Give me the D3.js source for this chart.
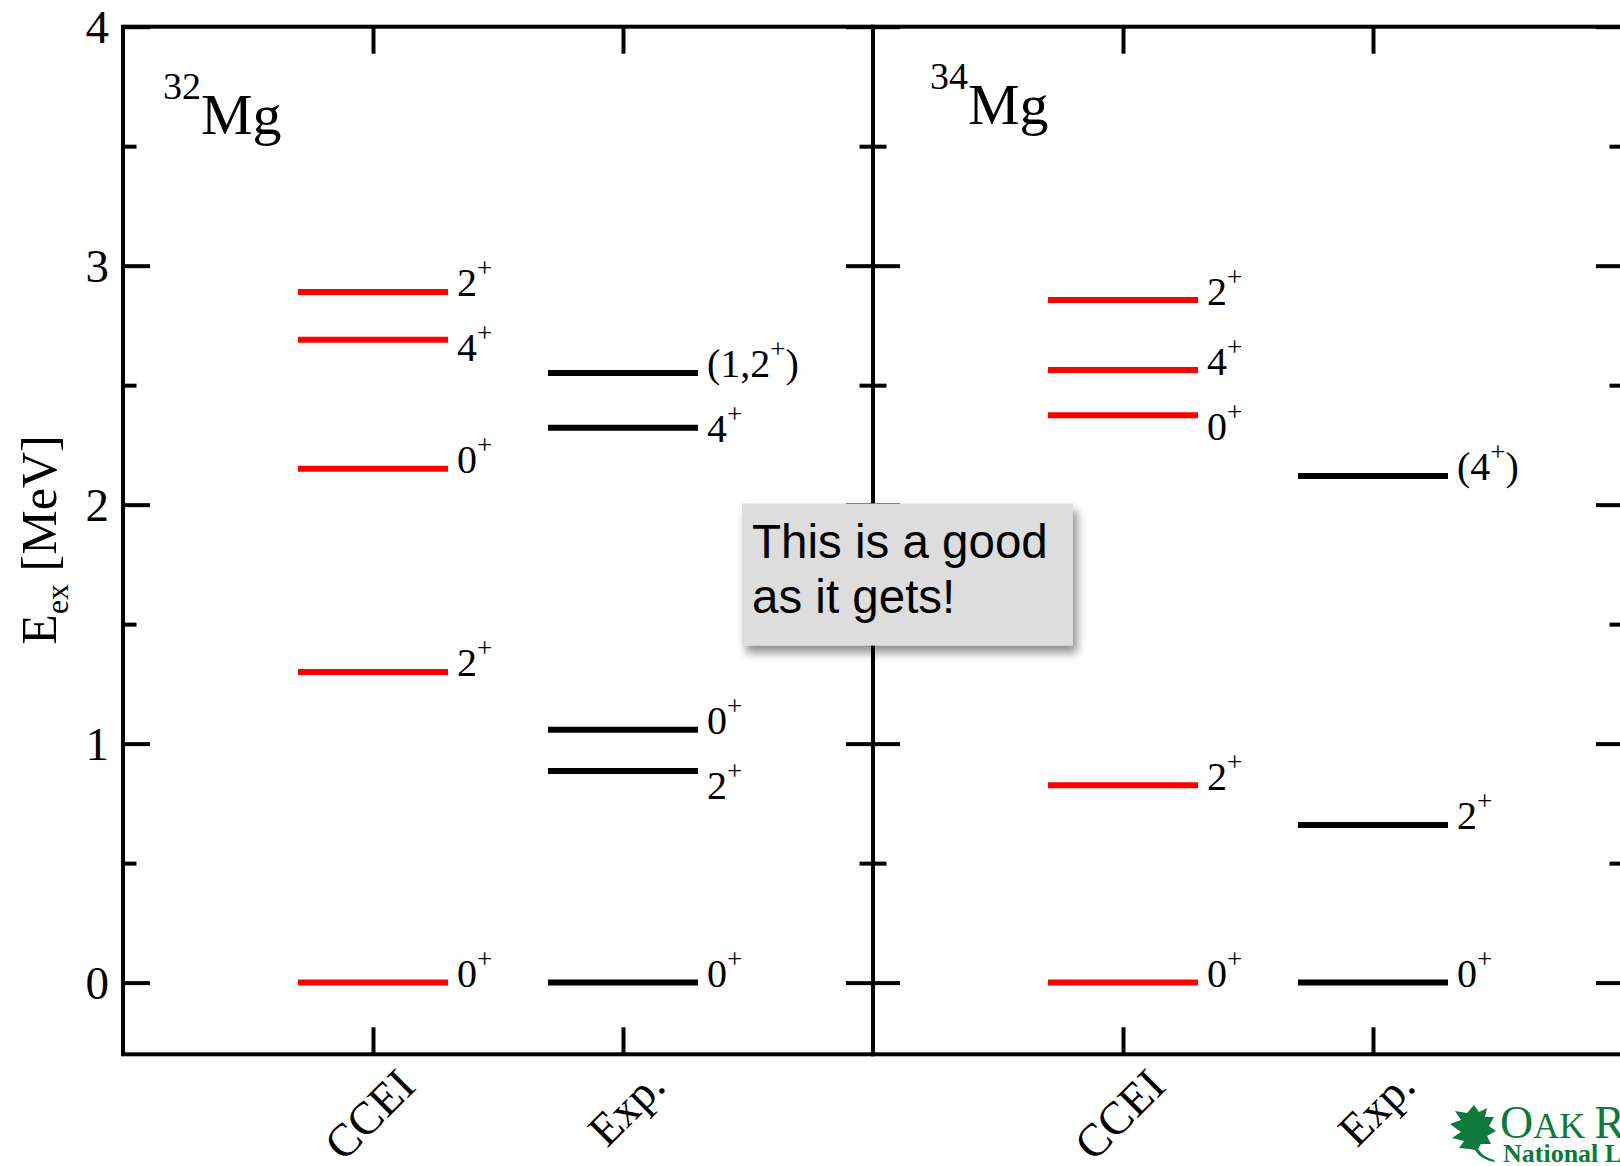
<!DOCTYPE html>
<html>
<head>
<meta charset="utf-8">
<script src="https://cdn.jsdelivr.net/npm/d3@7"></script>
<style>
  body { margin: 0; background: #fff; }
  svg { display: block; }
</style>
</head>
<body>
<div id="chart"></div>
<script>
// Data (MeV)
const categories = ["CCEI", "Exp."];
const nuclei = ["32", "34"];

const mg32CceiEnergy = [0, 1.30, 2.15, 2.69, 2.89];
const mg32CceiSpin = ["0+", "2+", "0+", "4+", "2+"];
const mg32ExpEnergy = [0, 0.885, 1.058, 2.322, 2.551];
const mg32ExpSpin = ["0+", "2+", "0+", "4+", "(1,2+)"];

const mg34CceiEnergy = [0, 0.826, 2.374, 2.563, 2.856];
const mg34CceiSpin = ["0+", "2+", "0+", "4+", "2+"];
const mg34ExpEnergy = [0, 0.660, 2.120];
const mg34ExpSpin = ["0+", "2+", "(4+)"];

const yMajorTicks = [0, 1, 2, 3, 4];
const yMinorTicks = [0.5, 1.5, 2.5, 3.5];

const width = 1620;
const height = 1166;
const plotTop = 26.7;
const plotBottom = 1054.3;
const plotLeft = 123;
const panelW = 750;
const serif = "'Liberation Serif', 'Times New Roman', serif";

const svg = d3.select("#chart")
    .append("svg")
    .attr("width", width)
    .attr("height", height)
    .style("background-color", "#fff");

const defs = svg.append("defs");
const shadow = defs.append("filter").attr("id", "shadow")
    .attr("x", "-20%").attr("y", "-20%").attr("width", "150%").attr("height", "160%");
shadow.append("feDropShadow")
    .attr("dx", 4).attr("dy", 7).attr("stdDeviation", 5)
    .attr("flood-color", "#000").attr("flood-opacity", 0.45);

const y = d3.scaleLinear().domain([-0.3, 4]).range([plotBottom, plotTop]);

// one column of levels per category per panel
const panels = [
  { mass: nuclei[0], cols: [
      { energy: mg32CceiEnergy, spin: mg32CceiSpin, color: "#ff0000" },
      { energy: mg32ExpEnergy, spin: mg32ExpSpin, color: "#000000" }
    ], titleX: 163, titleY: 134 },
  { mass: nuclei[1], cols: [
      { energy: mg34CceiEnergy, spin: mg34CceiSpin, color: "#ff0000" },
      { energy: mg34ExpEnergy, spin: mg34ExpSpin, color: "#000000" }
    ], titleX: 930, titleY: 124 }
];

function styleAxis(g) {
  g.select(".domain").remove();
  g.selectAll(".tick line").attr("stroke", "#000").attr("stroke-width", 4);
}

// label "0+" -> 0 with superscript +
function spinText(sel, spin) {
  const parts = spin.split("+");
  let raised = false;
  parts.forEach((p, i) => {
    if (p) {
      sel.append("tspan").attr("dy", raised ? 19 : 0).text(p);
      raised = false;
    }
    if (i < parts.length - 1) {
      sel.append("tspan").attr("font-size", 27).attr("dy", raised ? 0 : -19).text("+");
      raised = true;
    }
  });
}

panels.forEach((panel, pi) => {
  const x0 = plotLeft + pi * panelW;
  const x = d3.scalePoint().domain(categories).range([x0, x0 + panelW]).padding(1);
  const g = svg.append("g");

  // frame
  g.append("rect")
    .attr("x", x0).attr("y", plotTop)
    .attr("width", panelW).attr("height", plotBottom - plotTop)
    .attr("fill", "none").attr("stroke", "#000").attr("stroke-width", 4);

  // left side ticks
  const leftAxis = g.append("g").attr("transform", `translate(${x0},0)`)
    .call(d3.axisLeft(y).tickValues(yMajorTicks).tickSizeInner(-27).tickSizeOuter(0)
      .tickPadding(14).tickFormat(pi === 0 ? d3.format("d") : ""));
  styleAxis(leftAxis);
  leftAxis.selectAll("text")
    .attr("font-family", serif).attr("font-size", 47).attr("fill", "#000")
    .attr("dy", "0.34em");
  g.append("g").attr("transform", `translate(${x0},0)`)
    .call(d3.axisLeft(y).tickValues(yMinorTicks).tickSize(-13.5).tickFormat(""))
    .call(styleAxis);

  // right side ticks
  g.append("g").attr("transform", `translate(${x0 + panelW},0)`)
    .call(d3.axisRight(y).tickValues(yMajorTicks).tickSize(-27).tickFormat(""))
    .call(styleAxis);
  g.append("g").attr("transform", `translate(${x0 + panelW},0)`)
    .call(d3.axisRight(y).tickValues(yMinorTicks).tickSize(-13.5).tickFormat(""))
    .call(styleAxis);

  // top and bottom category ticks
  g.append("g").attr("transform", `translate(0,${plotTop})`)
    .call(d3.axisTop(x).tickSize(-27).tickFormat(""))
    .call(styleAxis);
  const bottomAxis = g.append("g").attr("transform", `translate(0,${plotBottom})`)
    .call(d3.axisBottom(x).tickSize(-27));
  styleAxis(bottomAxis);
  bottomAxis.selectAll("text")
    .attr("x", 0).attr("y", 0).attr("dy", 0)
    .attr("transform", "translate(44,34) rotate(-45)")
    .attr("text-anchor", "end")
    .attr("font-family", serif).attr("font-size", 46).attr("fill", "#000");

  // levels
  panel.cols.forEach((col, ci) => {
    const cx = x(categories[ci]);
    const half = x.step() * 0.3;
    const levels = col.energy.map((e, i) => ({ e: e, spin: col.spin[i] }));

    g.selectAll(null).data(levels).enter()
      .append("line")
      .attr("x1", cx - half).attr("x2", cx + half)
      .attr("y1", d => y(d.e)).attr("y2", d => y(d.e))
      .attr("stroke", col.color).attr("stroke-width", 6);

    // keep labels from overlapping: walk down from the top level
    const sorted = levels.slice().sort((a, b) => b.e - a.e);
    let prev = null;
    sorted.forEach(d => {
      let c = y(d.e) - 9;
      if (prev !== null && c < prev + 65) c = prev + 65;
      prev = c;
      const t = g.append("text")
        .attr("x", cx + half + 9)
        .attr("y", c + 13.5)
        .attr("font-family", serif).attr("font-size", 40).attr("fill", "#000");
      spinText(t, d.spin);
    });
  });

  // nucleus name
  const title = g.append("text")
    .attr("x", panel.titleX).attr("y", panel.titleY)
    .attr("font-family", serif).attr("fill", "#000");
  title.append("tspan").attr("font-size", 38).attr("dy", -35).text(panel.mass);
  title.append("tspan").attr("font-size", 58).attr("dy", 35).text("Mg");
});

// y axis title
const yTitle = svg.append("text")
    .attr("transform", "translate(56,540) rotate(-90)")
    .attr("text-anchor", "middle")
    .attr("font-family", serif).attr("font-size", 50).attr("fill", "#000");
yTitle.append("tspan").text("E");
yTitle.append("tspan").attr("font-size", 32).attr("dy", 12).text("ex");
yTitle.append("tspan").attr("dy", -12).text(" [MeV]");

// note box
const note = svg.append("g").attr("transform", "translate(742,503.5)");
note.append("rect")
    .attr("width", 331).attr("height", 142)
    .attr("fill", "#dddddd")
    .attr("filter", "url(#shadow)");
note.append("text")
    .attr("x", 10).attr("y", 54)
    .attr("font-family", "'Liberation Sans', Arial, sans-serif")
    .attr("font-size", 47.5).attr("fill", "#000")
    .text("This is a good");
note.append("text")
    .attr("x", 10).attr("y", 109)
    .attr("font-family", "'Liberation Sans', Arial, sans-serif")
    .attr("font-size", 47.5).attr("fill", "#000")
    .text("as it gets!");

// ORNL logo (cut by the edge)
const green = "#0d7a3c";
const logo = svg.append("g");
logo.append("path")
    .attr("transform", "translate(1450,1105)")
    .attr("d", "M24,0 L29,7 L37,3 L35,12 L44,12 L39,21 L46,26 L37,31 L41,39 L31,39 L28,44 " +
               "Q33,52 44,55 L45,57 Q31,55 25,45 L20,44 L9,43 L14,36 L2,33 L11,27 L0,19 L11,15 " +
               "L5,6 L17,8 Z")
    .attr("fill", green);
const logoText = logo.append("text")
    .attr("x", 1500).attr("y", 1138)
    .attr("font-family", serif).attr("fill", green);
logoText.append("tspan").attr("font-size", 46).text("O");
logoText.append("tspan").attr("font-size", 36).text("AK ");
logoText.append("tspan").attr("font-size", 46).text("R");
logoText.append("tspan").attr("font-size", 36).text("IDGE");
logo.append("text")
    .attr("x", 1503).attr("y", 1162)
    .attr("font-family", serif).attr("font-weight", "bold")
    .attr("font-size", 26).attr("fill", green)
    .text("National Laboratory");
</script>
</body>
</html>
